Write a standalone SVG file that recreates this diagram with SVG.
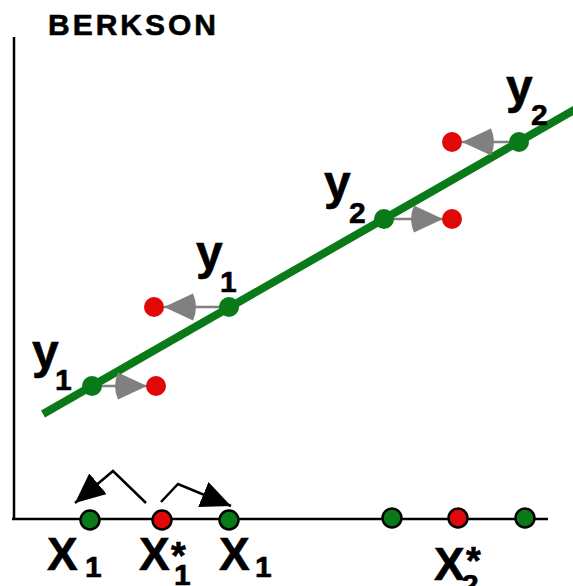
<svg xmlns="http://www.w3.org/2000/svg" width="573" height="586" viewBox="0 0 573 586">
  <style>
    text { font-family: "Liberation Sans", Arial, sans-serif; font-weight: bold; fill: #000; stroke: #000; stroke-width: 0.6; }
    .ylab { font-size: 48px; }
    .xlab { font-size: 46px; }
    .sub { font-size: 30px; }
    .ast { font-size: 38px; }
    .axis { stroke: #000; stroke-width: 2.5; fill: none; }
    .fit { stroke: #097a17; stroke-width: 8; fill: none; }
    .onl { fill: #097a17; }
    .red { fill: #e00808; }
    .ptg { fill: #097a17; stroke: #000; stroke-width: 2.5; }
    .ptr { fill: #e00808; stroke: #000; stroke-width: 2.5; }
    .garrow { stroke: #808080; stroke-width: 2.5; fill: none; marker-end: url(#gray-head); }
    .barrow { stroke: #000; stroke-width: 2.5; fill: none; marker-end: url(#black-head); }
  </style>
  <defs>
    <marker id="gray-head" viewBox="-3 0 35 28" refX="32" refY="14" markerWidth="35" markerHeight="28" markerUnits="userSpaceOnUse" orient="auto">
      <path d="M32,14 L3,0.5 Q-3,14 3,27.5 Z" fill="#808080"/>
    </marker>
    <marker id="black-head" viewBox="0 0 30 27" refX="30" refY="13.5" markerWidth="30" markerHeight="27" markerUnits="userSpaceOnUse" orient="auto">
      <path d="M0,0 L30,13.5 L0,27 Z" fill="#000"/>
    </marker>
  </defs>

  <g id="title"><text x="48" y="35" font-size="30" letter-spacing="3">BERKSON</text></g>

  <g id="axes">
    <line class="axis" x1="14" y1="37" x2="14" y2="519"/>
    <line class="axis" x1="12" y1="519" x2="548" y2="519"/>
  </g>

  <g id="fit-line">
    <line class="fit" x1="43" y1="414" x2="576" y2="109"/>
  </g>

  <g id="connectors">
    <line class="garrow" x1="92" y1="386" x2="147" y2="386"/>
    <line class="garrow" x1="229" y1="307" x2="164" y2="307"/>
    <line class="garrow" x1="384" y1="219" x2="443" y2="219"/>
    <line class="garrow" x1="519" y1="142" x2="462" y2="142"/>
    <path class="barrow" d="M146,503 L113,471 L75,503"/>
    <path class="barrow" d="M161,502 L178,484 L231,506"/>
  </g>

  <g id="y1a">
    <circle class="onl" cx="92" cy="386" r="10"/>
    <circle class="red" cx="156" cy="386" r="10"/>
    <text class="ylab" x="32" y="368">y</text><text class="sub" x="55" y="390">1</text>
  </g>
  <g id="y1b">
    <circle class="onl" cx="229" cy="307" r="10"/>
    <circle class="red" cx="154" cy="307" r="10"/>
    <text class="ylab" x="196" y="269">y</text><text class="sub" x="220" y="292">1</text>
  </g>
  <g id="y2a">
    <circle class="onl" cx="384" cy="219" r="10"/>
    <circle class="red" cx="452" cy="219" r="10"/>
    <text class="ylab" x="324" y="199">y</text><text class="sub" x="349" y="223">2</text>
  </g>
  <g id="y2b">
    <circle class="onl" cx="519" cy="142" r="10"/>
    <circle class="red" cx="452" cy="142" r="10"/>
    <text class="ylab" x="506" y="103">y</text><text class="sub" x="531" y="125">2</text>
  </g>

  <g id="x1a">
    <circle class="ptg" cx="90" cy="520" r="9.5"/>
    <text class="xlab" x="47" y="570">X</text><text class="sub" x="85" y="577" font-size="28">1</text>
  </g>
  <g id="x1star">
    <circle class="ptr" cx="162" cy="520" r="9.5"/>
    <text class="xlab" x="139" y="570">X</text><text class="ast" x="171" y="569">*</text><text class="sub" x="174" y="585" font-size="28">1</text>
  </g>
  <g id="x1b">
    <circle class="ptg" cx="229" cy="520" r="9.5"/>
    <text class="xlab" x="219" y="570">X</text><text class="sub" x="255" y="577" font-size="28">1</text>
  </g>
  <g id="x2a">
    <circle class="ptg" cx="392" cy="518" r="9.5"/>
  </g>
  <g id="x2star">
    <circle class="ptr" cx="458" cy="518" r="9.5"/>
    <text class="xlab" x="434" y="580" font-size="48">X</text><text class="ast" x="466" y="574" font-size="40">*</text><text class="sub" x="462" y="595">2</text>
  </g>
  <g id="x2b">
    <circle class="ptg" cx="525" cy="518" r="9.5"/>
  </g>
</svg>
